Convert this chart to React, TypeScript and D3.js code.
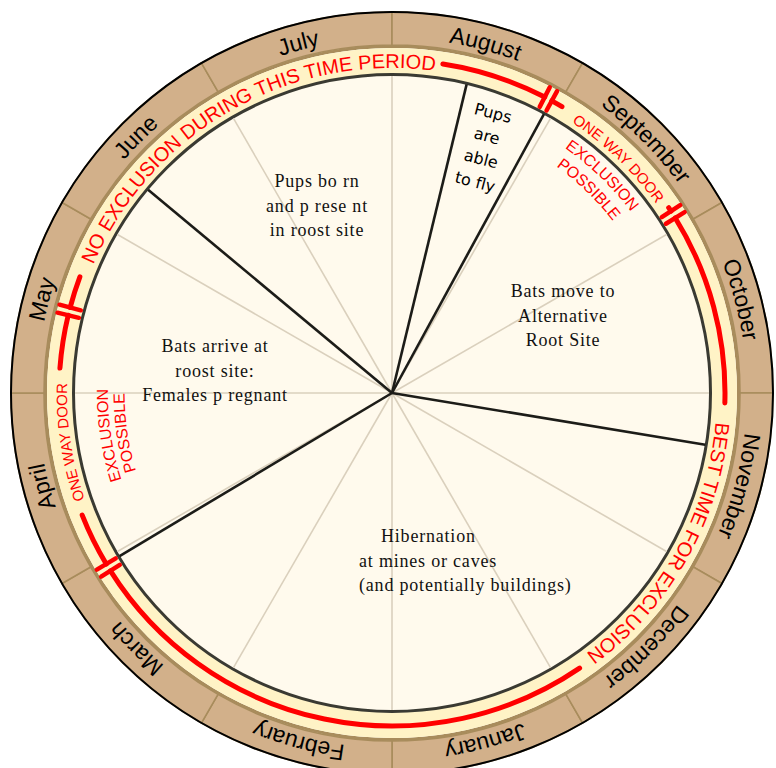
import React from 'react';
import * as d3 from 'd3';

const months = [
  'January', 'February', 'March', 'April', 'May', 'June',
  'July', 'August', 'September', 'October', 'November', 'December',
];

// positions are in months counted from 1 January
const periodBreaks = [2.97, 5.327, 7.453, 7.953, 10.313];

const redFrom = [7.293, 8.873, 11.857, 4.143];
const redTo = [8.023, 10.057, 15.283, 4.68];
const doorMarks = [7.933, 8.92, 14.947, 4.473];

const bandLabels = [
  'NO EXCLUSION DURING THIS TIME PERIOD',
  'ONE WAY DOOR',
  'BEST TIME FOR EXCLUSION',
  'ONE WAY DOOR',
];
const bandLabelAt = [6.015, 8.467, 10.975, 3.71];

const possibleLines = ['EXCLUSION', 'POSSIBLE'];
const possibleAt = [8.467, 3.717];

const pupsBorn = ['Pups bo rn', 'and p rese nt', 'in roost site'];
const pupsFly = ['Pups', 'are', 'able', 'to fly'];
const batsMove = ['Bats move to', 'Alternative', 'Root Site'];
const batsArrive = ['Bats arrive at', 'roost site:', 'Females p regnant'];
const hibernation = ['Hibernation', 'at mines or caves', '(and potentially buildings)'];

const W = 776;
const H = 768;
const cx = 392;
const cy = 393;
const R_OUT = 381;
const R_RING = 348;
const R_IN = 318.5;
const R_RED = 333;

const SANS = '"Liberation Sans", Arial, Helvetica, sans-serif';
const SERIF = '"Liberation Serif", "Times New Roman", serif';
const RED = '#ff0000';

// month position -> degrees clockwise from 12 o'clock (August starts at the top)
const angle = d3.scaleLinear().domain([0, 12]).range([150, 510]);
const rad = (v: number) => (angle(v) * Math.PI) / 180;
const polar = (v: number, r: number): [number, number] => [
  cx + r * Math.sin(rad(v)),
  cy - r * Math.cos(rad(v)),
];

const arcPath = (v0: number, v1: number, r: number) => {
  const p = d3.path();
  p.arc(cx, cy, r, rad(v0) - Math.PI / 2, rad(v1) - Math.PI / 2, false);
  return p.toString();
};

// nearly-full circle centred on v, for text along the ring
const ringPath = (v: number, r: number) => arcPath(v - 5.9, v + 5.9, r);

const cellArc = d3.arc<{ i: number }>()
  .innerRadius(R_RING)
  .outerRadius(R_OUT)
  .startAngle((d) => rad(d.i))
  .endAngle((d) => rad(d.i + 1));

const GAP = 4 / R_RED / (Math.PI / 180) / 30; // 4px in month units

const SerifBlock = ({ lines, x, y, anchor = 'middle' }: any) => (
  <text
    fontFamily={SERIF}
    fontSize={18}
    letterSpacing={0.8}
    fill="#111"
    textAnchor={anchor}
  >
    {lines.map((l: string, i: number) => (
      <tspan key={i} x={Array.isArray(x) ? x[i] : x} y={y + i * 24.5}>{l}</tspan>
    ))}
  </text>
);

export default function App() {
  return (
    <svg
      width={W}
      height={H}
      style={{ position: 'absolute', left: 0, top: 0, background: '#fff' }}
    >
      <defs>
        {months.map((m, i) => (
          <path key={m} id={`month-${i}`} d={ringPath(i + 0.5, 355)} fill="none" />
        ))}
        {bandLabels.map((l, i) => (
          <path key={i} id={`band-${i}`} d={ringPath(bandLabelAt[i], 325)} fill="none" />
        ))}
        {possibleAt.map((v, i) =>
          possibleLines.map((l, j) => (
            <path
              key={`${i}-${j}`}
              id={`poss-${i}-${j}`}
              d={ringPath(v, i === 0 ? 300 - j * 20 : 284 - j * 16.5)}
              fill="none"
            />
          ))
        )}
      </defs>

      {/* month ring */}
      <g transform={`translate(${cx},${cy})`}>
        {months.map((m, i) => (
          <path key={m} d={cellArc({ i }) || ''} fill="#d2b08a" stroke="#a88c5c" strokeWidth={1.6} />
        ))}
      </g>
      <circle cx={cx} cy={cy} r={R_OUT} fill="none" stroke="#000" strokeWidth={2} />
      <circle cx={cx} cy={cy} r={R_RING - 1.5} fill="none" stroke="#a88c5c" strokeWidth={3} />
      <circle cx={cx} cy={cy} r={(R_RING - 3 + R_IN) / 2} fill="none" stroke="#fff3c6" strokeWidth={R_RING - 3 - R_IN} />
      <circle cx={cx} cy={cy} r={R_IN} fill="#fffaed" stroke="#3a3a32" strokeWidth={3} />

      {/* month spokes */}
      {months.map((m, i) => {
        const [x, y] = polar(i, R_IN - 1.5);
        return <line key={m} x1={cx} y1={cy} x2={x} y2={y} stroke="#dad0bd" strokeWidth={1.6} />;
      })}

      {/* period dividers */}
      {periodBreaks.map((v, i) => {
        const [x, y] = polar(v, R_IN - 1);
        return <line key={i} x1={cx} y1={cy} x2={x} y2={y} stroke="#1c1c18" strokeWidth={2.6} />;
      })}

      {/* month names */}
      {months.map((m, i) => (
        <text key={m} fontFamily={SANS} fontSize={23} fill="#000">
          <textPath href={`#month-${i}`} startOffset="50%" textAnchor="middle">{m}</textPath>
        </text>
      ))}

      {/* red exclusion arcs with one way door marks */}
      {redFrom.map((v0, i) => {
        const m = doorMarks[i];
        const v1 = redTo[i];
        return (
          <g key={i} stroke={RED} fill="none">
            <path d={arcPath(v0, m - GAP, R_RED)} strokeWidth={5} strokeLinecap="round" />
            <path d={arcPath(m + GAP, v1, R_RED)} strokeWidth={5} strokeLinecap="round" />
            {[m - GAP, m + GAP].map((b, k) => {
              const [x1, y1] = polar(b, R_RED - 11);
              const [x2, y2] = polar(b, R_RED + 11);
              return <line key={k} x1={x1} y1={y1} x2={x2} y2={y2} strokeWidth={4.5} strokeLinecap="round" />;
            })}
          </g>
        );
      })}

      {bandLabels.map((l, i) => (
        <text key={i} fontFamily={SANS} fontSize={l.length > 15 ? 20 : 15} fill={RED}>
          <textPath href={`#band-${i}`} startOffset="50%" textAnchor="middle">{l}</textPath>
        </text>
      ))}

      {possibleAt.map((v, i) =>
        possibleLines.map((l, j) => (
          <text key={`${i}-${j}`} fontFamily={SANS} fontSize={16} fill={RED}>
            <textPath href={`#poss-${i}-${j}`} startOffset="50%" textAnchor="middle">{l}</textPath>
          </text>
        ))
      )}

      {/* segment notes */}
      <SerifBlock lines={pupsBorn} x={317} y={187} />
      <SerifBlock lines={batsMove} x={563} y={297} />
      <SerifBlock lines={batsArrive} x={215} y={352} />
      <SerifBlock lines={hibernation} x={[381, 359, 359]} y={542} anchor="start" />

      <g transform="translate(493,113) rotate(14.6)">
        <text fontFamily='"DejaVu Sans", sans-serif' fontSize={16} fill="#000" textAnchor="middle">
          {pupsFly.map((l, i) => (
            <tspan key={i} x={0} y={i * 23.7} dy="0.35em">{l}</tspan>
          ))}
        </text>
      </g>
    </svg>
  );
}
